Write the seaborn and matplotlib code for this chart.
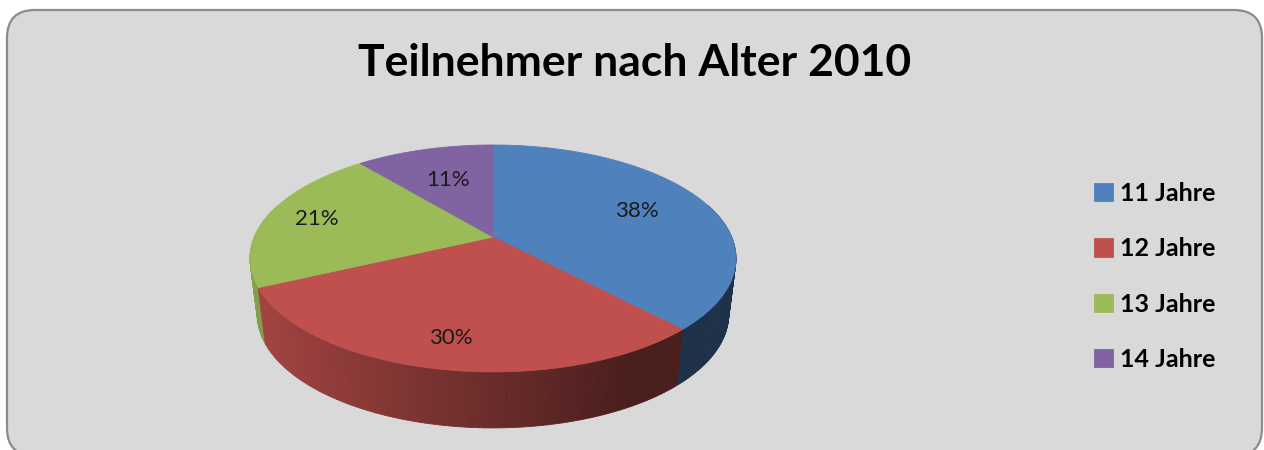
import numpy as np
import matplotlib
matplotlib.use("Agg")
import matplotlib.pyplot as plt
from matplotlib.patches import FancyBboxPatch
from matplotlib.collections import PolyCollection
from matplotlib.colors import to_rgb
import seaborn as sns

# Daten
title = "Teilnehmer nach Alter 2010"
categories = ["11 Jahre", "12 Jahre", "13 Jahre", "14 Jahre"]
shares = [38, 30, 21, 11]
slice_colors = ["#4F81BD", "#C0504D", "#9BBB59", "#8064A2"]

# Geometrie der gekippten Torte (Pixel)
CX, CY = 493, 237          # Spitze der Stuecke
RX, RY = 238.6, 109.4      # Halbachsen vor der Perspektive
K = -0.189                 # Perspektive (vorne groesser)
DEPTH = 56                 # Hoehe der Seitenwand
SHRINK = 0.97              # Unterseite etwas schmaler
label_r = [0.68, 0.8, 0.78, 0.62]


def project(theta, r=1.0, bottom=False):
    X = r * np.cos(theta)
    Y = -r * np.sin(theta)
    w = 1 + K * Y
    u = RX * X / w
    v = RY * Y / w
    if bottom:
        u = u * SHRINK
        v = v + DEPTH
    return CX + u, CY + v


sns.set_theme(style="white")
plt.rcParams['font.family'] = ['Lato', 'DejaVu Sans']

fig = plt.figure(figsize=(12.64, 4.5), dpi=100)
ax = fig.add_axes([0, 0, 1, 1])
ax.set_xlim(0, 1264)
ax.set_ylim(450, 0)
ax.axis("off")

# Rahmen
frame = FancyBboxPatch((7, 10), 1255, 446, boxstyle="round,pad=0,rounding_size=28",
                       fc="#D9D9D9", ec="#8C8C8C", lw=1.6, zorder=0)
ax.add_patch(frame)

ax.text(635, 63, title, ha="center", va="center", fontsize=32, fontweight="bold",
        color="black", zorder=5)

total = float(sum(shares))
bounds = np.deg2rad(90 - 360 * np.concatenate([[0], np.cumsum(shares)]) / total)

# Seitenwand: viele schmale Vierecke, von hinten nach vorne
quads, cols, depth = [], [], []
for i, c in enumerate(slice_colors):
    a0, a1 = bounds[i], bounds[i + 1]
    n = max(int(np.degrees(a0 - a1)), 2)
    ts = np.linspace(a1, a0, n + 1)
    for t0, t1 in zip(ts[:-1], ts[1:]):
        tm = 0.5 * (t0 + t1)
        if -np.sin(tm) < -0.3:
            continue
        x0, y0 = project(t0)
        x1, y1 = project(t1)
        bx0, by0 = project(t0, bottom=True)
        bx1, by1 = project(t1, bottom=True)
        quads.append([(x0, y0), (x1, y1), (bx1, by1), (bx0, by0)])
        xm = project(tm)[0]
        t = np.clip((xm - (CX - 243)) / 486, 0, 1)
        f = max(0.85 - 0.6 * t, 0.38)
        cols.append(tuple(np.array(to_rgb(c)) * f))
        depth.append(-np.sin(tm))

order = np.argsort(depth)
side = PolyCollection([quads[j] for j in order], facecolors=[cols[j] for j in order],
                      edgecolors=[cols[j] for j in order], linewidths=0.6, zorder=2)
ax.add_collection(side)

# Oberseite
handles = []
for i, c in enumerate(slice_colors):
    ts = np.linspace(bounds[i], bounds[i + 1], 200)
    xs, ys = project(ts)
    xs = np.concatenate([[CX], xs])
    ys = np.concatenate([[CY], ys])
    h = ax.fill(xs, ys, fc=c, ec=c, lw=0.6, zorder=3)[0]
    handles.append(h)

    tm = 0.5 * (bounds[i] + bounds[i + 1])
    lx, ly = project(tm, r=label_r[i])
    ax.text(lx, ly, f"{shares[i]}%", ha="center", va="center", fontsize=16,
            color="#1a1a1a", zorder=4)

leg = ax.legend(handles, categories, loc="upper left", bbox_to_anchor=(1084 / 1264, 1 - 172 / 450),
                frameon=False, prop={"size": 18, "weight": "bold"},
                handlelength=0.74, handleheight=0.74,
                handletextpad=0.32, labelspacing=1.29, borderaxespad=0)
for t in leg.get_texts():
    t.set_color("black")

fig.savefig("out.png", dpi=100, facecolor="white")
